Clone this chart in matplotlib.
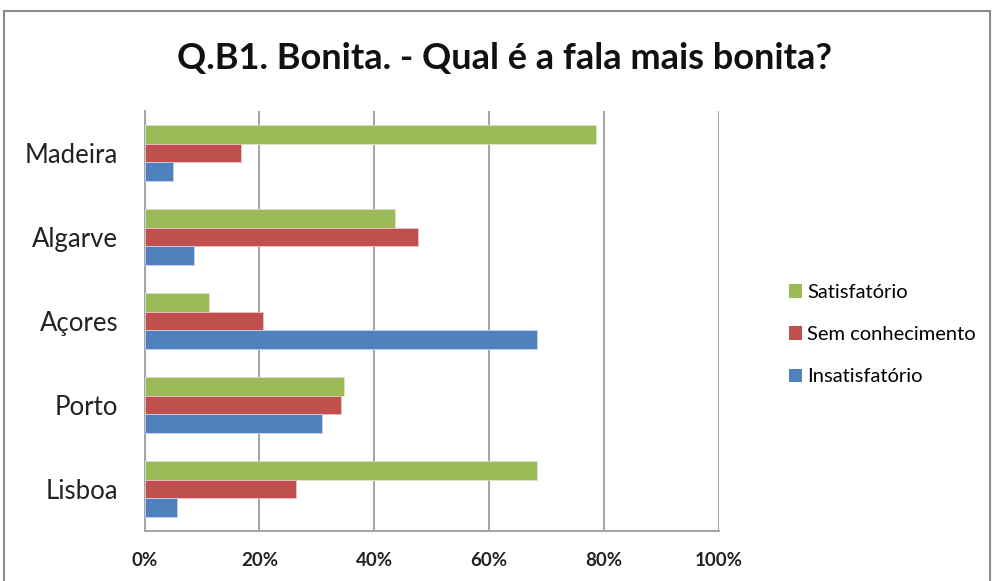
import matplotlib
matplotlib.use("Agg")
import matplotlib.pyplot as plt
from matplotlib.patches import Rectangle, Patch
import numpy as np

categories = ["Lisboa", "Porto", "Açores", "Algarve", "Madeira"]
satisfatorio = [68.3, 34.8, 11.2, 43.7, 78.7]
sem_conhecimento = [26.3, 34.2, 20.7, 47.7, 16.8]
insatisfatorio = [5.7, 30.9, 68.3, 8.6, 4.9]
xticks = [0, 20, 40, 60, 80, 100]
xticklabels = ["0%", "20%", "40%", "60%", "80%", "100%"]
title = "Q.B1. Bonita. - Qual é a fala mais bonita?"

green = "#9BBB59"
red = "#C0504D"
blue = "#4F81BD"
grid = "#A6A6A6"

plt.rcParams['font.family'] = ['Lato', 'DejaVu Sans']

fig = plt.figure(figsize=(9.92, 5.81), dpi=100)
fig.patch.set_facecolor("white")

# outer border
fig.patches.append(Rectangle((4/992, -0.1), (990-4)/992, 1.1 - 11/581,
                             transform=fig.transFigure, fill=False,
                             edgecolor="#8C8C8C", linewidth=1.5, clip_on=False))

ax = fig.add_axes([144.7/992, 1-531/581, (718.5-144.7)/992, (531-111)/581])
y = np.arange(len(categories))
h = 0.222
ax.barh(y + h, satisfatorio, height=h, color=green, edgecolor="#D8E4C4", linewidth=0.6, zorder=3, label="Satisfatório")
ax.barh(y, sem_conhecimento, height=h, color=red, edgecolor="#E8C4C3", linewidth=0.6, zorder=3, label="Sem conhecimento")
ax.barh(y - h, insatisfatorio, height=h, color=blue, edgecolor="#C4D3E8", linewidth=0.6, zorder=3, label="Insatisfatório")

ax.set_xlim(0, 100)
ax.set_ylim(-0.5, len(categories) - 0.5)
ax.set_xticks(xticks)
ax.set_xticklabels(xticklabels, fontsize=13.5, fontweight="bold", color="#222222")
ax.set_yticks(y)
ax.set_yticklabels(categories, fontsize=18.5, color="#222222")
ax.tick_params(axis="x", length=0, pad=15)
ax.tick_params(axis="y", length=0, pad=19)
ax.xaxis.grid(True, color=grid, linewidth=1.5, zorder=0)
for s in ["top", "right"]:
    ax.spines[s].set_visible(False)
for s in ["left", "bottom"]:
    ax.spines[s].set_color(grid)
    ax.spines[s].set_linewidth(1.5)

fig.text(505/992, 1-58/581, title, ha="center", va="center", fontsize=26, fontweight="bold", color="#111111")

handles = [Patch(facecolor=green), Patch(facecolor=red), Patch(facecolor=blue)]
labels = ["Satisfatório", "Sem conhecimento", "Insatisfatório"]
fig.legend(handles, labels, loc="upper left", bbox_to_anchor=(781/992, 1-276/581),
           frameon=False, fontsize=14.5, handlelength=0.65, handleheight=0.65,
           handletextpad=0.25, labelspacing=1.25, borderaxespad=0)

fig.savefig("out.png", dpi=100)
